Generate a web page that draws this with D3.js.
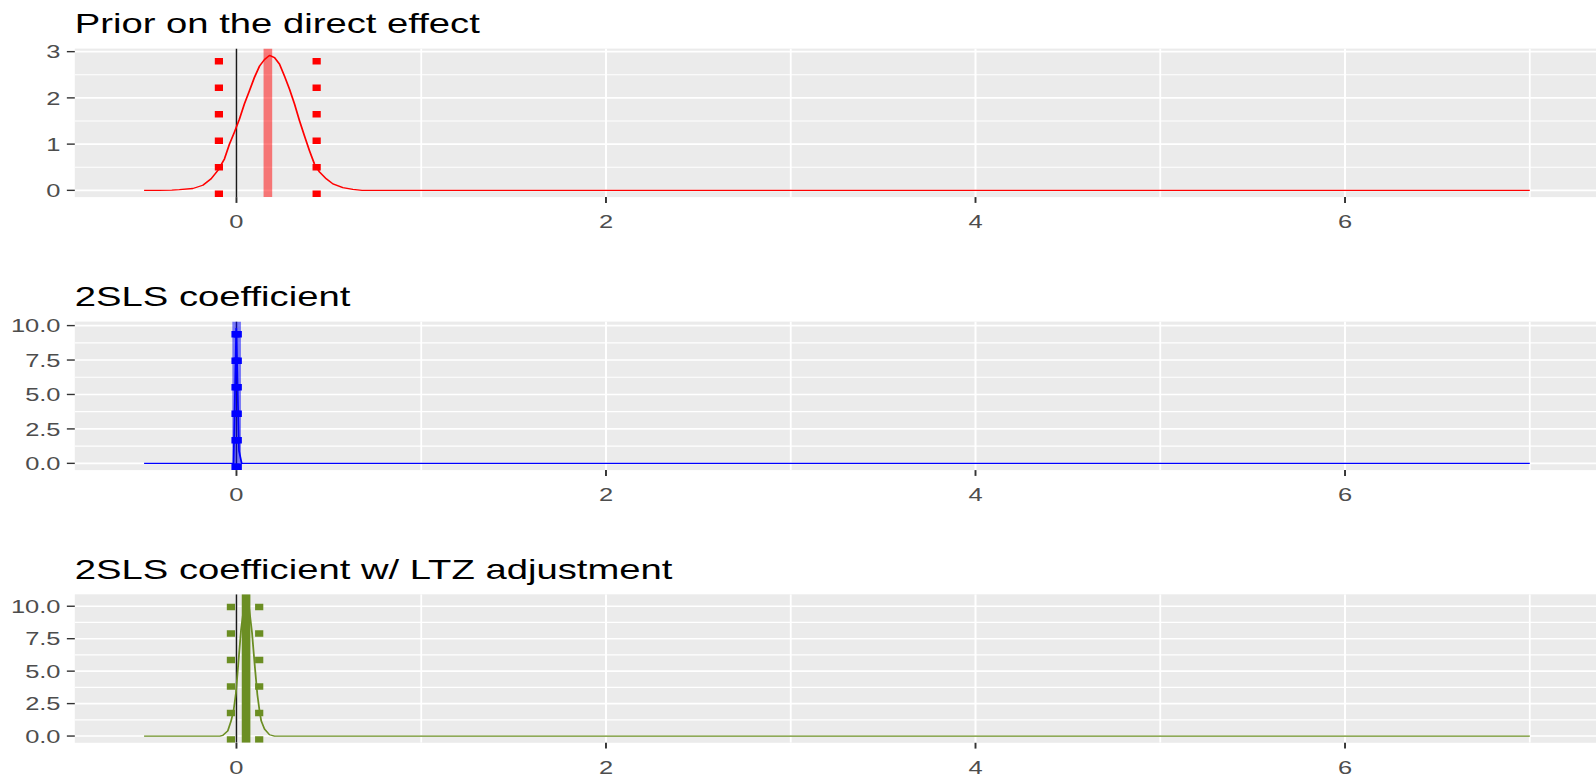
<!DOCTYPE html>
<html>
<head>
<meta charset="utf-8">
<script src="https://cdn.jsdelivr.net/npm/d3@7"></script>
<style>
  html, body { margin: 0; padding: 0; background: #fff; overflow: hidden; }
  svg { display: block; }
  text { font-family: "Liberation Sans", Arial, Helvetica, sans-serif; }
</style>
</head>
<body>
<svg id="chart"></svg>
<script>
// ---- Densities (x grid, density value) ----
const priorX = [-0.5, -0.42, -0.35, -0.309, -0.236, -0.182, -0.137, -0.101, -0.065, -0.038,
                -0.011, 0.016, 0.043, 0.070, 0.097, 0.125, 0.152, 0.179, 0.206, 0.233,
                0.260, 0.287, 0.314, 0.341, 0.368, 0.395, 0.422, 0.449, 0.486, 0.522,
                0.576, 0.630, 0.68, 7];
const priorY = [0, 0, 0.005, 0.015, 0.04, 0.11, 0.25, 0.43, 0.68, 1.0,
                1.26, 1.54, 1.87, 2.15, 2.44, 2.69, 2.83, 2.92, 2.87, 2.73,
                2.47, 2.19, 1.87, 1.51, 1.18, 0.86, 0.57, 0.40, 0.25, 0.14,
                0.06, 0.02, 0, 0];

const tslsX = [-0.5, -0.0157, -0.001, 0.0137, 0.0284, 7];
const tslsY = [0, 0, 9.8, 0.9, 0, 0];

const ltzX = [-0.5, -0.09, -0.074, -0.047, -0.029, -0.016, -0.003, 0.010, 0.025, 0.040,
              0.054, 0.069, 0.084, 0.098, 0.113, 0.125, 0.134, 0.152, 0.179, 0.206, 7];
const ltzY = [0, 0, 0.05, 0.4, 1.17, 1.93, 3.3, 5.6, 8.2, 9.9,
              10.4, 9.8, 8.0, 5.6, 3.2, 1.93, 1.17, 0.53, 0.1, 0, 0];

// ---- Point estimates and interval bounds ----
const estimates = [0.170, 0.001, 0.052];
const lowerBounds = [-0.095, -0.005, -0.030];
const upperBounds = [0.434, 0.007, 0.123];

// ---- Text ----
const panelTitles = ["Prior on the direct effect", "2SLS coefficient", "2SLS coefficient w/ LTZ adjustment"];
const xTicks = [0, 2, 4, 6];
const xMinorTicks = [1, 3, 5, 7];
const yTicksPrior = [0, 1, 2, 3];
const yMinorPrior = [0.5, 1.5, 2.5];
const yTicksCoef = [0, 2.5, 5, 7.5, 10];
const yMinorCoef = [1.25, 3.75, 6.25, 8.75];

// ---- Layout (drawn in a narrower frame, stretched to the window width) ----
const W = 1596, H = 777, SX = 1.37;
const W0 = W / SX;
const panelLeft = 54.6, panelRight = 1167.2, panelH = 148.5;
const panelTops = [48.6, 321.6, 594.3];
const tickLen = 5.8;

const svg = d3.select("#chart")
  .attr("width", W).attr("height", H)
  .attr("viewBox", `0 0 ${W0} ${H}`)
  .attr("preserveAspectRatio", "none");

const panels = [
  { xs: priorX, ys: priorY, color: "#FF0000", band: "#FF0000", bandOpacity: 0.5,
    ticks: yTicksPrior, minor: yMinorPrior, fmt: d3.format("d") },
  { xs: tslsX, ys: tslsY, color: "#0000FF", band: "#0000FF", bandOpacity: 0.5,
    ticks: yTicksCoef, minor: yMinorCoef, fmt: d3.format(".1f") },
  { xs: ltzX, ys: ltzY, color: "#6B8E23", band: "#6B8E23", bandOpacity: 1,
    ticks: yTicksCoef, minor: yMinorCoef, fmt: d3.format(".1f") }
];

// shared x range with 5% padding on each side
const allX = priorX.concat(tslsX, ltzX);
const [xmin, xmax] = d3.extent(allX);
const xpad = (xmax - xmin) * 0.05;
const x = d3.scaleLinear().domain([xmin - xpad, xmax + xpad]).range([panelLeft, panelRight]);

panels.forEach((p, i) => {
  const top = panelTops[i], bottom = top + panelH;
  const ymax = d3.max(p.ys);
  const y = d3.scaleLinear().domain([-0.05 * ymax, 1.05 * ymax]).range([bottom, top]);

  const clipId = "clip" + i;
  svg.append("clipPath").attr("id", clipId)
    .append("rect").attr("x", panelLeft).attr("y", top)
    .attr("width", panelRight - panelLeft).attr("height", panelH);

  const g = svg.append("g");

  // panel background
  g.append("rect").attr("x", panelLeft).attr("y", top)
    .attr("width", panelRight - panelLeft).attr("height", panelH)
    .attr("fill", "#EBEBEB");

  const grid = g.append("g").attr("clip-path", `url(#${clipId})`);
  // minor grid
  grid.selectAll(".ymin").data(p.minor).join("line")
    .attr("x1", panelLeft).attr("x2", panelRight)
    .attr("y1", d => y(d)).attr("y2", d => y(d))
    .attr("stroke", "#fff").attr("stroke-width", 1.2);
  grid.selectAll(".xmin").data(xMinorTicks).join("line")
    .attr("x1", d => x(d)).attr("x2", d => x(d))
    .attr("y1", top).attr("y2", bottom)
    .attr("stroke", "#fff").attr("stroke-width", 1.3);
  // major grid
  grid.selectAll(".ymaj").data(p.ticks).join("line")
    .attr("x1", panelLeft).attr("x2", panelRight)
    .attr("y1", d => y(d)).attr("y2", d => y(d))
    .attr("stroke", "#fff").attr("stroke-width", 1.6);
  grid.selectAll(".xmaj").data(xTicks).join("line")
    .attr("x1", d => x(d)).attr("x2", d => x(d))
    .attr("y1", top).attr("y2", bottom)
    .attr("stroke", "#fff").attr("stroke-width", 1.5);

  const marks = g.append("g").attr("clip-path", `url(#${clipId})`);

  // reference line at zero
  marks.append("line")
    .attr("x1", x(0)).attr("x2", x(0)).attr("y1", top).attr("y2", bottom)
    .attr("stroke", "#1a1a1a").attr("stroke-width", 1.1);

  // density curve
  const pts = p.xs.map((v, k) => [v, p.ys[k]]);
  marks.append("path")
    .datum(pts)
    .attr("d", d3.line().x(d => x(d[0])).y(d => y(d[1])))
    .attr("fill", "none").attr("stroke", p.color).attr("stroke-width", 1.3)
    .attr("stroke-linejoin", "round");

  // point estimate
  marks.append("line")
    .attr("x1", x(estimates[i])).attr("x2", x(estimates[i]))
    .attr("y1", top).attr("y2", bottom)
    .attr("stroke", p.band).attr("stroke-opacity", p.bandOpacity)
    .attr("stroke-width", 6.3);

  // interval bounds (dotted)
  marks.selectAll(".bound").data([lowerBounds[i], upperBounds[i]]).join("line")
    .attr("x1", d => x(d)).attr("x2", d => x(d))
    .attr("y1", bottom).attr("y2", top)
    .attr("stroke", p.color).attr("stroke-width", 6)
    .attr("stroke-dasharray", "6.5 20").attr("stroke-linecap", "butt");

  // y axis
  const yAxis = g.append("g");
  yAxis.selectAll("line").data(p.ticks).join("line")
    .attr("x1", panelLeft - tickLen).attr("x2", panelLeft)
    .attr("y1", d => y(d)).attr("y2", d => y(d))
    .attr("stroke", "#333").attr("stroke-width", 1.4);
  yAxis.selectAll("text").data(p.ticks).join("text")
    .attr("x", panelLeft - tickLen - 4.6).attr("y", d => y(d))
    .attr("dy", "0.36em").attr("text-anchor", "end")
    .attr("font-size", 18.6).attr("fill", "#4D4D4D")
    .text(d => p.fmt(d));

  // x axis
  const xAxis = g.append("g");
  xAxis.selectAll("line").data(xTicks).join("line")
    .attr("x1", d => x(d)).attr("x2", d => x(d))
    .attr("y1", bottom).attr("y2", bottom + tickLen)
    .attr("stroke", "#333").attr("stroke-width", 1.4);
  xAxis.selectAll("text").data(xTicks).join("text")
    .attr("x", d => x(d)).attr("y", bottom + 30.8)
    .attr("text-anchor", "middle")
    .attr("font-size", 18.6).attr("fill", "#4D4D4D")
    .text(d => d3.format("d")(d));

  // title
  g.append("text")
    .attr("x", panelLeft).attr("y", top - 15.3)
    .attr("font-size", 27.9).attr("fill", "#000")
    .text(panelTitles[i]);
});
</script>
</body>
</html>
